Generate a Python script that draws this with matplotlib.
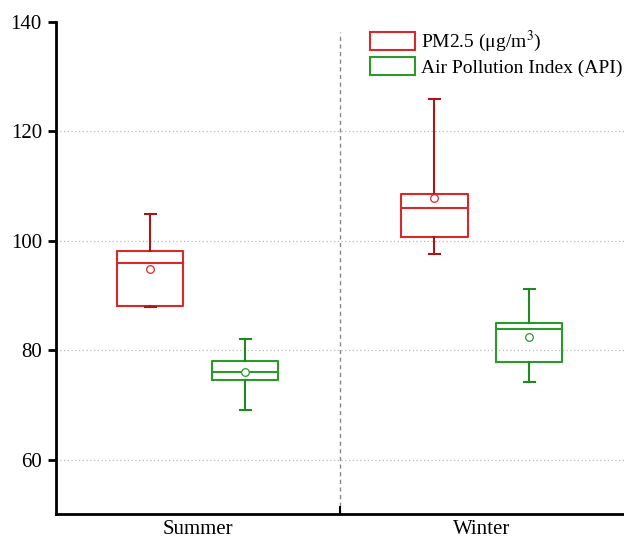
import matplotlib.pyplot as plt
from matplotlib.patches import Patch

seasons = ["Summer", "Winter"]
series = ["PM2.5 ($\\mathregular{\\mu}$g/m$^3$)", "Air Pollution Index (API)"]

# per season: [whislo, q1, med, q3, whishi, mean]
pm25_stats = [
    [87.9, 88.1, 95.9, 98.1, 104.8, 94.9],
    [97.5, 100.6, 106.0, 108.5, 125.9, 107.7],
]
api_stats = [
    [69.1, 74.6, 76.0, 78.0, 82.1, 76.0],
    [74.1, 77.9, 83.9, 84.9, 91.2, 82.4],
]

box_colors = ["#d42a2a", "#2a9a2a"]
whisk_colors = ["#a51818", "#1f8a1f"]
offsets = [-0.167, 0.167]

plt.rcParams["font.family"] = ["Liberation Serif", "DejaVu Serif"]
plt.rcParams["mathtext.fontset"] = "stix"

fig = plt.figure(figsize=(6.24, 5.41), dpi=100)
ax = fig.add_axes([0.0893, 0.0494, 0.9107, 0.9105])

for k, stats in enumerate([pm25_stats, api_stats]):
    bxp = []
    for s in stats:
        bxp.append(dict(whislo=s[0], q1=s[1], med=s[2], q3=s[3], whishi=s[4], mean=s[5], fliers=[]))
    pos = [i + 1 + offsets[k] for i in range(len(seasons))]
    ax.bxp(
        bxp,
        positions=pos,
        widths=0.233,
        capwidths=0.04,
        showmeans=True,
        showfliers=False,
        boxprops=dict(color=box_colors[k], linewidth=1.5),
        medianprops=dict(color=box_colors[k], linewidth=1.5),
        whiskerprops=dict(color=whisk_colors[k], linewidth=1.5),
        capprops=dict(color=whisk_colors[k], linewidth=1.5),
        meanprops=dict(marker="o", markersize=5.5, markerfacecolor="white",
                       markeredgecolor=box_colors[k], markeredgewidth=0.9),
        zorder=3,
    )

ax.set_xlim(0.5, 2.5)
ax.set_ylim(50, 140)
ax.set_yticks([60, 80, 100, 120, 140])
ax.set_xticks([1, 2])
ax.set_xticklabels(seasons)
ax.set_xticks([1.5], minor=True)
ax.tick_params(axis="x", which="major", length=0, pad=4, labelsize=15)
ax.tick_params(axis="x", which="minor", length=6, width=1.5, direction="in", top=False, bottom=True)
ax.tick_params(axis="y", length=6, width=2, labelsize=15, pad=4)

for y in [60, 80, 100, 120]:
    ax.axhline(y, color="#bbbbbb", linestyle=(0, (1, 2)), linewidth=0.9, zorder=1)
ax.axvline(1.5, ymax=0.98, color="#888888", linestyle=(0, (3, 2.5)), linewidth=1.0, zorder=1)

ax.spines["top"].set_visible(False)
ax.spines["right"].set_visible(False)
ax.spines["left"].set_linewidth(2)
ax.spines["bottom"].set_linewidth(2)

handles = [Patch(facecolor="white", edgecolor=box_colors[0], linewidth=1.5),
           Patch(facecolor="white", edgecolor=box_colors[1], linewidth=1.5)]
ax.legend(handles, series, loc="upper left", bbox_to_anchor=(0.553, 0.985),
          frameon=False, fontsize=14, handlelength=2.3, handleheight=1.05,
          labelspacing=0.15, handletextpad=0.3, borderpad=0, borderaxespad=0)

fig.savefig("out.png", dpi=100)
